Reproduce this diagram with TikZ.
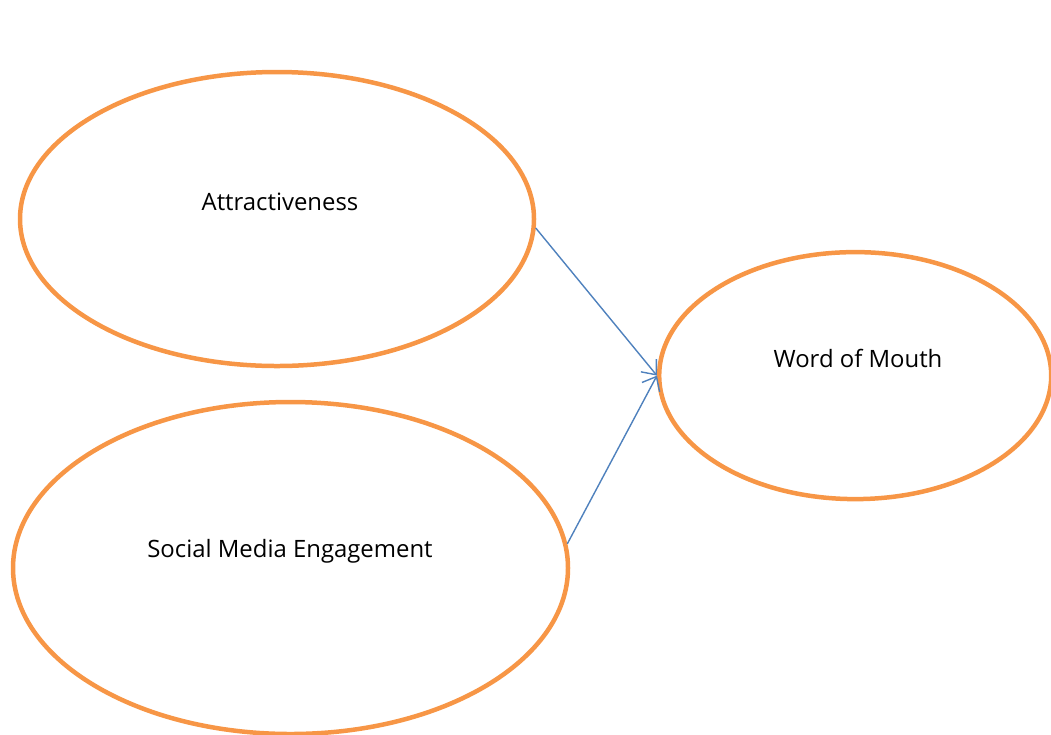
\documentclass[tikz,border=0pt]{standalone}
\usepackage{fontspec}
\setmainfont{Open Sans}
\usepackage{tikz}
\usetikzlibrary{shapes.geometric,arrows.meta}
\definecolor{ovalorange}{HTML}{F79646}
\definecolor{linkblue}{HTML}{4F81BD}
\tikzset{
  font={\fontsize{17pt}{20}\selectfont},
  oval/.style={draw=ovalorange, line width=3.2pt, ellipse, inner sep=0pt},
  link/.style={draw=linkblue, line width=1pt, -{Straight Barb[length=3mm,width=5mm]}}}

\begin{document}
\begin{tikzpicture}
\useasboundingbox (0,0) rectangle (26.275,-18.35);
\node [oval, minimum width=12.85cm, minimum height=7.35cm] (attr) at (6.925,-5.475) {};
\node (attrtext) at (7.0,-5.05) {Attractiveness};
\node [oval, minimum width=13.875cm, minimum height=8.3cm] (sme) at (7.2625,-14.2) {};
\node (smetext) at (7.25,-13.775) {Social Media Engagement};
\node [oval, minimum width=9.8cm, minimum height=6.175cm] (wom) at (21.38,-9.39) {};
\node (womtext) at (21.45,-8.95) {Word of Mouth};
\draw [link] (attr.-2.7) -- (wom.west);
\draw [link] (sme.5.7) -- (wom.west);
\end{tikzpicture}
\end{document}
